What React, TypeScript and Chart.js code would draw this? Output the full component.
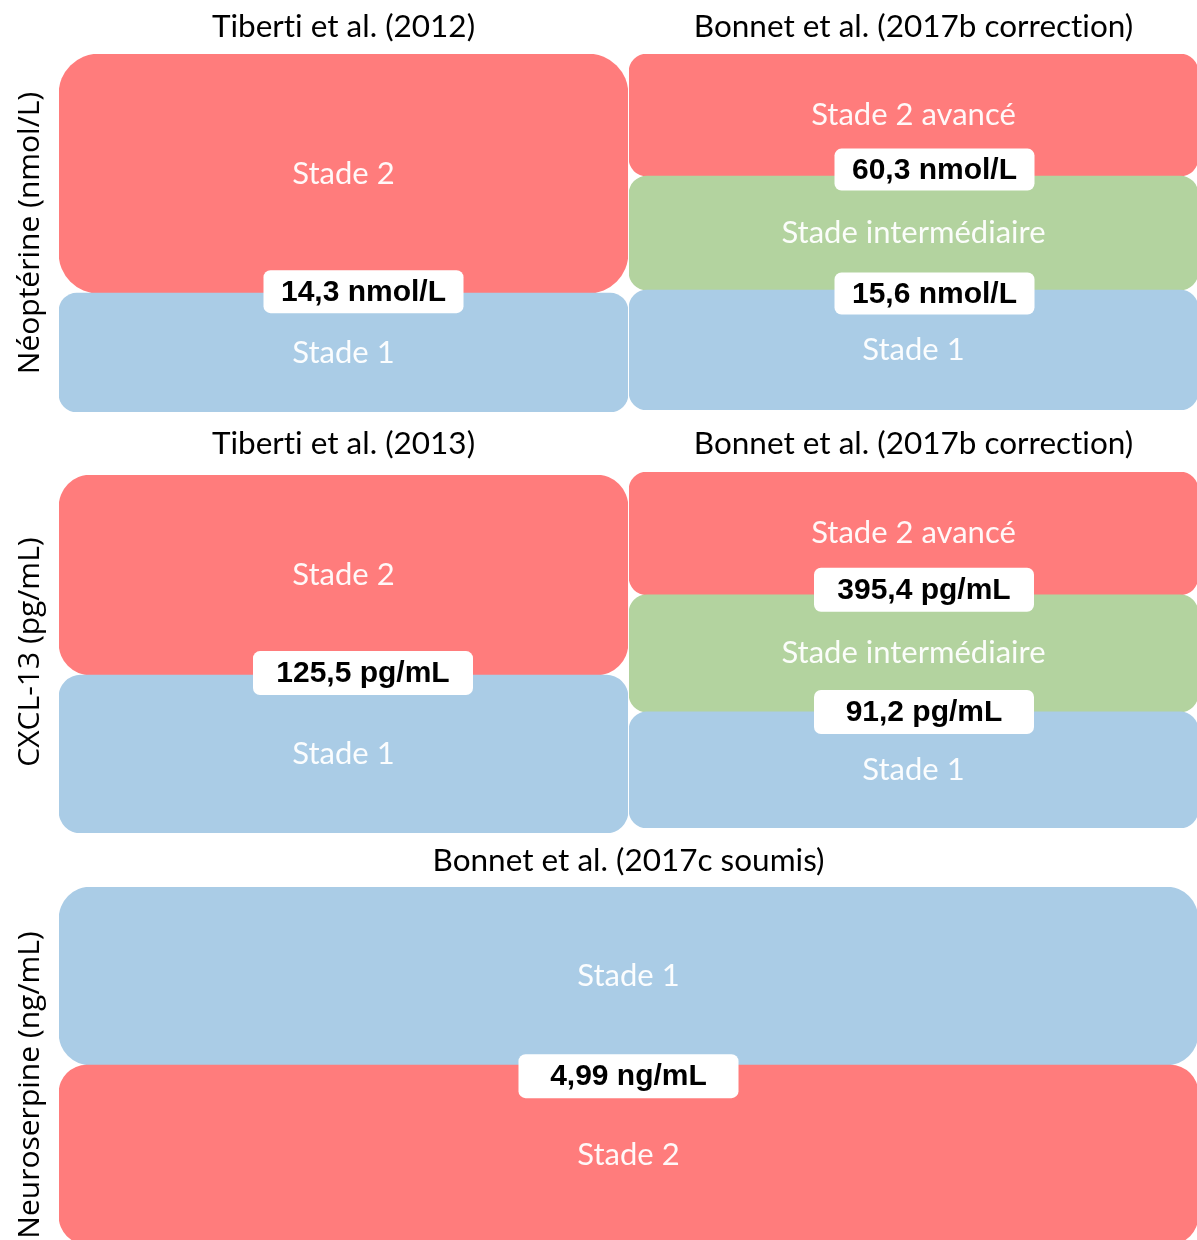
import { useEffect, useRef } from "react";
import { Chart, registerables } from "chart.js";

Chart.register(...registerables);

// ---------- data ----------
const panelTitles = [
  "Tiberti et al. (2012)",
  "Bonnet et al. (2017b correction)",
  "Tiberti et al. (2013)",
  "Bonnet et al. (2017b correction)",
  "Bonnet et al. (2017c soumis)",
];

const rowTitles = ["Néoptérine (nmol/L)", "", "CXCL-13 (pg/mL)", "", "Neuroserpine (ng/mL)"];

// stages listed bottom -> top
const stageNames: string[][] = [
  ["Stade 1", "Stade 2"],
  ["Stade 1", "Stade intermédiaire", "Stade 2 avancé"],
  ["Stade 1", "Stade 2"],
  ["Stade 1", "Stade intermédiaire", "Stade 2 avancé"],
  ["Stade 2", "Stade 1"],
];

// schematic extent of each stage band (0-100 scale)
const stageBands: number[][][] = [
  [[0, 33.2], [33.2, 100]],
  [[0, 33.7], [33.7, 65.7], [65.7, 100]],
  [[0, 44.1], [44.1, 100]],
  [[0, 32.6], [32.6, 65.5], [65.5, 100]],
  [[0, 50.1], [50.1, 100]],
];

// cut-off values, one per boundary between consecutive bands (bottom -> top)
const thresholdLabels: string[][] = [
  ["14,3 nmol/L"],
  ["15,6 nmol/L", "60,3 nmol/L"],
  ["125,5 pg/mL"],
  ["91,2 pg/mL", "395,4 pg/mL"],
  ["4,99 ng/mL"],
];

const stageColors: Record<string, string> = {
  "Stade 1": "#AACCE6",
  "Stade 2": "#FF7C7C",
  "Stade 2 avancé": "#FF7C7C",
  "Stade intermédiaire": "#B3D39F",
};

// ---------- layout / style ----------
const panelLayout = [
  { left: 0, top: 0, width: 628, height: 412, padLeft: 59, titleTop: 7.6, titleBottom: 8.6, radii: [18, 40], boxW: 200, boxH: 43, boxDx: 20, boxDy: [-1.5], rowDy: 0 },
  { left: 628, top: 0, width: 570, height: 410, padLeft: 1, titleTop: 7.6, titleBottom: 8.6, radii: [18, 18, 18], boxW: 200, boxH: 42, boxDx: 21, boxDy: [3.5, -6.5], rowDy: 0 },
  { left: 0, top: 420, width: 628, height: 413, padLeft: 59, titleTop: 4.6, titleBottom: 12.6, radii: [22, 32], boxW: 220, boxH: 44, boxDx: 19.5, boxDy: [-2], rowDy: -2 },
  { left: 628, top: 420, width: 570, height: 408, padLeft: 1, titleTop: 4.6, titleBottom: 9.6, radii: [18, 18, 18], boxW: 220, boxH: 44, boxDx: 10.5, boxDy: [0, -5], rowDy: 0 },
  { left: 0, top: 835, width: 1198, height: 409, padLeft: 59, titleTop: 6.6, titleBottom: 7.6, radii: [28, 32], boxW: 220, boxH: 44, boxDx: 0, boxDy: [11], rowDy: 19.5 },
];

function Panel({ index }: { index: number }) {
  const ref = useRef<HTMLCanvasElement>(null);
  const L = panelLayout[index];

  useEffect(() => {
    if (!ref.current) return;
    const names = stageNames[index];
    const bands = stageBands[index];
    const thr = thresholdLabels[index];
    const rowTitle = rowTitles[index];

    const textPlugin = {
      id: "panelText" + index,
      beforeDraw(chart: any) {
        const ctx = chart.ctx as any;
        ctx.textRendering = "optimizeSpeed";
      },
      afterDatasetsDraw(chart: any) {
        const ctx = chart.ctx as CanvasRenderingContext2D;
        const area = chart.chartArea;
        ctx.save();
        (ctx as any).textRendering = "optimizeSpeed";
        ctx.textAlign = "center";
        ctx.textBaseline = "middle";
        // stage labels
        chart.data.datasets.forEach((_ds: any, di: number) => {
          const el = chart.getDatasetMeta(di).data[0];
          const p = el.getProps(["x", "y", "base"], true);
          ctx.fillStyle = "rgba(255,255,255,0.95)";
          ctx.font = "31px Lato";
          ctx.fillText(names[di], p.x, (p.y + p.base) / 2);
        });
        // threshold boxes
        const yScale = chart.scales.y;
        thr.forEach((t, ti) => {
          const yb = yScale.getPixelForValue(bands[ti][1]);
          const cx = (area.left + area.right) / 2 + L.boxDx;
          const cy = yb + L.boxDy[ti];
          ctx.fillStyle = "#FFFFFF";
          ctx.beginPath();
          ctx.roundRect(cx - L.boxW / 2, cy - L.boxH / 2, L.boxW, L.boxH, 7);
          ctx.fill();
          ctx.fillStyle = "#000000";
          ctx.font = 'bold 30px "Liberation Sans"';
          ctx.fillText(t, cx, cy + 1);
        });
        // row title
        if (rowTitle) {
          const cy = (area.top + area.bottom) / 2 + L.rowDy;
          ctx.translate(39, cy);
          ctx.rotate(-Math.PI / 2);
          ctx.textBaseline = "alphabetic";
          ctx.fillStyle = "#000000";
          ctx.font = '30px "Open Sans"';
          ctx.fillText(rowTitle, 0, 0);
        }
        ctx.restore();
      },
    };

    const chart = new Chart(ref.current, {
      type: "bar",
      data: {
        labels: [""],
        datasets: names.map((n, i) => ({
          label: n,
          data: [bands[i] as [number, number]],
          backgroundColor: stageColors[n],
          borderRadius: L.radii[i],
          borderSkipped: false,
          barPercentage: 1,
          categoryPercentage: 1,
          grouped: false,
        })),
      },
      options: {
        animation: false,
        responsive: false,
        maintainAspectRatio: false,
        layout: { padding: { left: L.padLeft, right: 0, top: 0, bottom: 0 } },
        scales: {
          x: { display: false },
          y: { display: false, min: 0, max: 100 },
        },
        plugins: {
          legend: { display: false },
          tooltip: { enabled: false },
          title: {
            display: true,
            text: panelTitles[index],
            fullSize: false,
            color: "#000000",
            font: { family: "Lato", size: 31.5, weight: "normal" },
            padding: { top: L.titleTop, bottom: L.titleBottom },
          },
        },
      } as any,
      plugins: [textPlugin],
    });
    return () => chart.destroy();
  }, [index]);

  return (
    <canvas
      ref={ref}
      width={L.width}
      height={L.height}
      style={{ position: "absolute", left: L.left, top: L.top, width: L.width, height: L.height }}
    />
  );
}

export default function App() {
  return (
    <div style={{ position: "absolute", left: 0, top: 0, width: 1197, height: 1240, overflow: "hidden", background: "#fff" }}>
      {panelTitles.map((_, i) => (
        <Panel key={i} index={i} />
      ))}
    </div>
  );
}
